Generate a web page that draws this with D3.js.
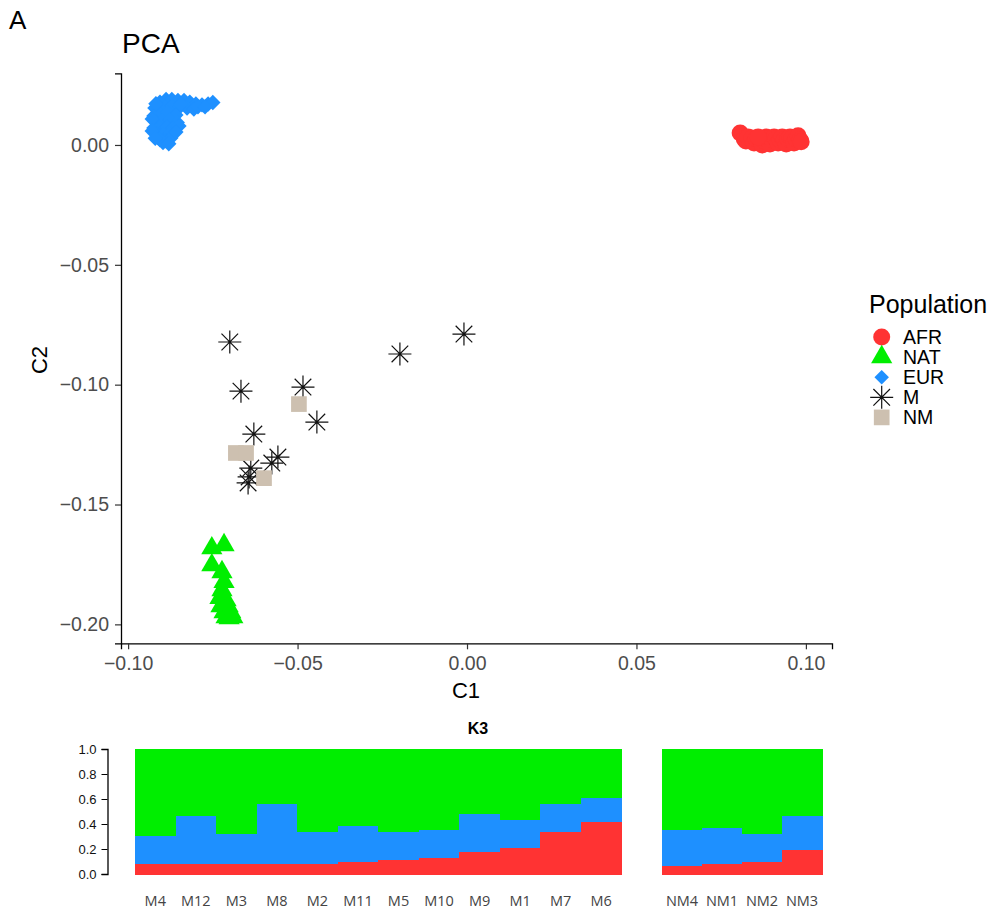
<!DOCTYPE html>
<html><head><meta charset="utf-8">
<script src="https://cdn.jsdelivr.net/npm/d3@7"></script>
<style>body{margin:0;background:#fff}svg{display:block}</style>
</head><body>
<svg id="chart" width="994" height="915"></svg>
<script>
// ---------- PCA data ----------
const afrC1 = [0.0806,0.0818,0.0823,0.0829,0.0841,0.0847,0.0853,0.0865,0.0871,0.0877,0.0883,0.0888,0.0894,0.0900,0.0906,0.0912,0.0918,0.0924,0.0930,0.0936,0.0942,0.0947,0.0953,0.0959,0.0965,0.0971,0.0977,0.0983,0.0986,0.0859];
const afrC2 = [0.0050,0.0025,0.0017,0.0033,0.0029,0.0008,0.0025,0.0021,0.0000,0.0017,0.0033,0.0025,0.0004,0.0021,0.0033,0.0025,0.0008,0.0021,0.0033,0.0021,0.0004,0.0025,0.0033,0.0029,0.0008,0.0025,0.0038,0.0021,0.0013,0.0033];
const natC1 = [-0.0753,-0.0717,-0.0753,-0.0723,-0.0717,-0.0723,-0.0729,-0.0711,-0.0726,-0.0705,-0.0717,-0.0697,-0.0711,-0.0691,-0.0702];
const natC2 = [-0.1682,-0.1669,-0.1753,-0.1782,-0.1823,-0.1857,-0.1890,-0.1899,-0.1924,-0.1924,-0.1949,-0.1949,-0.1970,-0.1970,-0.1974];
const eurC1 = [-0.0921,-0.0906,-0.0888,-0.0871,-0.0853,-0.0835,-0.0818,-0.0800,-0.0782,-0.0764,-0.0750,-0.0912,-0.0891,-0.0871,-0.0847,-0.0826,-0.0806,-0.0794,-0.0773,
  -0.0924,-0.0906,-0.0883,-0.0859,-0.0918,-0.0900,-0.0877,-0.0855,-0.0924,-0.0906,-0.0885,-0.0868,-0.0915,-0.0897,-0.0877,-0.0906,-0.0888,-0.0874,-0.0897,-0.0929,-0.0929,
  -0.0918,-0.0850,-0.0859,-0.0920,-0.0880,-0.0845];
const eurC2 = [0.0154,0.0179,0.0190,0.0190,0.0186,0.0186,0.0179,0.0171,0.0167,0.0171,0.0177,0.0146,0.0159,0.0163,0.0159,0.0154,0.0150,0.0159,0.0159,
  0.0121,0.0129,0.0134,0.0125,0.0096,0.0100,0.0104,0.0094,0.0071,0.0071,0.0075,0.0071,0.0046,0.0042,0.0046,0.0021,0.0017,0.0029,0.0010,0.0108,0.0058,
  0.0172,0.0079,0.0054,0.0028,0.0005,0.0170];
const mC1 = [-0.0700,-0.0667,-0.0484,-0.0443,-0.0629,-0.0558,-0.0576,-0.0638,-0.0643,-0.0646,-0.0198,-0.0009];
const mC2 = [-0.0822,-0.1027,-0.1010,-0.1156,-0.1206,-0.1302,-0.1327,-0.1348,-0.1385,-0.1410,-0.0872,-0.0789];
const nmC1 = [-0.0496,-0.0682,-0.0652,-0.0599];
const nmC2 = [-0.1081,-0.1285,-0.1285,-0.1390];

const populations = ["AFR","NAT","EUR","M","NM"];
const popColors = ["#FF3333","#00EE00","#1E90FF","#1a1a1a","#CDC0B0"];
const xTicks = [-0.10,-0.05,0.00,0.05,0.10];
const yTicks = [0.00,-0.05,-0.10,-0.15,-0.20];

// ---------- Admixture K3 data ----------
const mSamples = ["M4","M12","M3","M8","M2","M11","M5","M10","M9","M1","M7","M6"];
const mAFR = [0.082,0.082,0.088,0.082,0.088,0.104,0.115,0.136,0.179,0.210,0.339,0.424];
const mEUR = [0.224,0.390,0.234,0.480,0.256,0.288,0.229,0.224,0.309,0.230,0.223,0.186];
const mNAT = [0.694,0.528,0.678,0.438,0.656,0.608,0.656,0.640,0.512,0.560,0.438,0.390];
const nmSamples = ["NM4","NM1","NM2","NM3"];
const nmAFR = [0.072,0.088,0.104,0.194];
const nmEUR = [0.288,0.288,0.218,0.278];
const nmNAT = [0.640,0.624,0.678,0.528];
const barTicks = [0,0.2,0.4,0.6,0.8,1.0];

const svg = d3.select("#chart");
const FONT = "'Liberation Sans', Arial, Helvetica, sans-serif";

// Panel letter + title
svg.append("text").attr("x",9).attr("y",28.5).attr("font-family",FONT).attr("font-size",26).text("A");
svg.append("text").attr("x",122).attr("y",53).attr("font-family",FONT).attr("font-size",28).text("PCA");

// Scales
const x = d3.scaleLinear().domain([-0.1021,0.1077]).range([121,832]);
const y = d3.scaleLinear().domain([0.0299,-0.2079]).range([73.3,643.3]);
const fmt = d3.format(".2f");

const gx = svg.append("g").attr("transform","translate(0,643.3)")
  .call(d3.axisBottom(x).tickValues(xTicks).tickFormat(fmt).tickSizeOuter(0).tickSize(6).tickPadding(7));
const gy = svg.append("g").attr("transform","translate(121,0)")
  .call(d3.axisLeft(y).tickValues(yTicks).tickFormat(fmt).tickSizeOuter(0).tickSize(6).tickPadding(6));
[gx,gy].forEach(g=>{
  g.attr("font-size",19.5).attr("font-family",FONT);
  g.select(".domain").attr("stroke","#000").attr("stroke-width",1.3);
  g.selectAll(".tick line").attr("stroke","#333").attr("stroke-width",1.2);
  g.selectAll(".tick text").attr("fill","#4D4D4D");
});

svg.append("text").attr("x",466).attr("y",698).attr("text-anchor","middle")
  .attr("font-family",FONT).attr("font-size",22).text("C1");
svg.append("text").attr("transform","translate(47,360) rotate(-90)").attr("text-anchor","middle")
  .attr("font-family",FONT).attr("font-size",22).text("C2");

// Symbols
const symCircle = d3.symbol().type(d3.symbolCircle).size(Math.PI*8.5*8.5);
const symTri = d3.symbol().type(d3.symbolTriangle).size(195);
const symDiamond = d3.symbol().type(d3.symbolSquare).size(118);
const symSquare = d3.symbol().type(d3.symbolSquare).size(246);
function asterisk(sel){
  const a=11.5, b=8.3;
  sel.append("path")
    .attr("d",`M${-a},0L${a},0M0,${-a}L0,${a}M${-b},${-b}L${b},${b}M${-b},${b}L${b},${-b}`)
    .attr("stroke","#111").attr("stroke-width",1.2).attr("fill","none");
}
const plot = svg.append("g");
function pts(c1,c2){ return c1.map((v,i)=>[v,c2[i]]); }

plot.selectAll(".afr").data(pts(afrC1,afrC2)).join("path").attr("class","afr")
  .attr("d",symCircle).attr("fill",popColors[0])
  .attr("transform",d=>`translate(${x(d[0])},${y(d[1])})`);
plot.selectAll(".nat").data(pts(natC1,natC2)).join("path").attr("class","nat")
  .attr("d",symTri).attr("fill",popColors[1])
  .attr("transform",d=>`translate(${x(d[0])},${y(d[1])})`);
plot.selectAll(".eur").data(pts(eurC1,eurC2)).join("path").attr("class","eur")
  .attr("d",symDiamond).attr("fill",popColors[2])
  .attr("transform",d=>`translate(${x(d[0])},${y(d[1])}) rotate(45)`);
plot.selectAll(".m").data(pts(mC1,mC2)).join("g").attr("class","m")
  .attr("transform",d=>`translate(${x(d[0])},${y(d[1])})`).call(asterisk);
plot.selectAll(".nm").data(pts(nmC1,nmC2)).join("path").attr("class","nm")
  .attr("d",symSquare).attr("fill",popColors[4])
  .attr("transform",d=>`translate(${x(d[0])},${y(d[1])})`);

// Legend
const leg = svg.append("g");
leg.append("text").attr("x",869).attr("y",313).attr("font-family",FONT).attr("font-size",25).text("Population");
const symLegDiamond = d3.symbol().type(d3.symbolSquare).size(105);
populations.forEach((p,i)=>{
  const cy = 337 + i*20.1, cx = 881.7;
  const g = leg.append("g").attr("transform",`translate(${cx},${cy})`);
  if(i===0) g.append("path").attr("d",symCircle).attr("fill",popColors[0]);
  if(i===1) g.append("path").attr("d",symTri).attr("fill",popColors[1]);
  if(i===2) g.append("path").attr("d",symLegDiamond).attr("fill",popColors[2]).attr("transform","rotate(45)");
  if(i===3) asterisk(g);
  if(i===4) g.append("path").attr("d",symSquare).attr("fill",popColors[4]);
  leg.append("text").attr("x",903).attr("y",cy+7).attr("font-family",FONT).attr("font-size",19.5).text(p);
});

// ---------- K3 bar chart ----------
const yb = d3.scaleLinear().domain([0,1]).range([874,749]);
const xbM = d3.scaleBand().domain(mSamples).range([135,621.5]).padding(0);
const xbN = d3.scaleBand().domain(nmSamples).range([662,822]).padding(0);
const compColors = ["#FF3333","#1E90FF","#00EE00"];

svg.append("text").attr("x",478).attr("y",734).attr("text-anchor","middle")
  .attr("font-family",FONT).attr("font-weight","bold").attr("font-size",16).text("K3");

const gyb = svg.append("g").attr("transform","translate(107.5,0)")
  .call(d3.axisLeft(yb).tickValues(barTicks).tickFormat(d3.format(".1f")).tickSizeOuter(0).tickSize(6).tickPadding(5));
gyb.attr("font-size",13).attr("font-family",FONT);
gyb.select(".domain").attr("stroke","#000").attr("stroke-width",1.3);
gyb.selectAll(".tick line").attr("stroke","#000");
gyb.selectAll(".tick text").attr("fill","#111");

function drawGroup(samples, afr, eur, nat, xs){
  const rows = samples.map((s,i)=>({s, v:[afr[i],eur[i],nat[i]]}));
  const g = svg.append("g").attr("shape-rendering","crispEdges");
  rows.forEach(r=>{
    let base = 0;
    r.v.forEach((v,k)=>{
      g.append("rect").attr("x",xs(r.s)).attr("width",xs.bandwidth()+0.8)
        .attr("y",yb(base+v)).attr("height",yb(base)-yb(base+v)+0.5)
        .attr("fill",compColors[k]);
      base += v;
    });
    svg.append("text").attr("x",xs(r.s)+xs.bandwidth()/2).attr("y",906)
      .attr("text-anchor","middle").attr("font-family","'Open Sans', sans-serif")
      .attr("font-size",14.5).attr("fill","#444").text(r.s);
  });
}
drawGroup(mSamples,mAFR,mEUR,mNAT,xbM);
drawGroup(nmSamples,nmAFR,nmEUR,nmNAT,xbN);
</script>
</body></html>
